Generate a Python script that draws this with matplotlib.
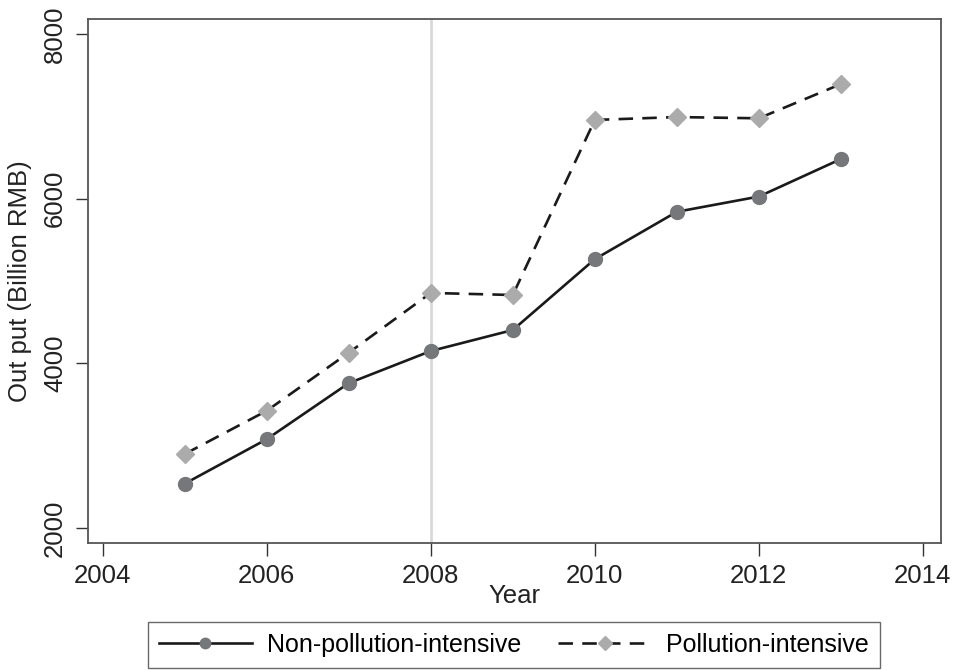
import numpy as np
import matplotlib
matplotlib.use('Agg')
import matplotlib.pyplot as plt

plt.rcParams['font.family'] = ['Liberation Sans', 'DejaVu Sans']

years = [2005, 2006, 2007, 2008, 2009, 2010, 2011, 2012, 2013]
non_pollution = [2540, 3080, 3760, 4150, 4405, 5265, 5840, 6025, 6480]
pollution = [2900, 3425, 4130, 4855, 4830, 6955, 6990, 6975, 7390]

x_ticks = [2004, 2006, 2008, 2010, 2012, 2014]
y_ticks = [2000, 4000, 6000, 8000]

fig = plt.figure(figsize=(9.65, 6.7), dpi=100)
ax = fig.add_axes([0.0912, 0.1896, 0.8838, 0.782])

# reference year line
ax.axvline(2008, color='#d9d9d9', lw=2, zorder=1)

ax.plot(years, non_pollution, color='#1a1a1a', lw=1.9, marker='o', ms=10,
        mfc='#76777b', mec='#76777b', label='Non-pollution-intensive', zorder=3)
ax.plot(years, pollution, color='#1a1a1a', lw=1.9, ls=(0, (5.5, 3.5)), marker='D', ms=9,
        mfc='#ababab', mec='#ababab', label='Pollution-intensive', zorder=3)

ax.set_xlim(2003.82, 2014.22)
ax.set_ylim(1820, 8180)
ax.set_xticks(x_ticks)
ax.set_yticks(y_ticks)
ax.tick_params(axis='both', direction='out', length=9, width=1, color='#333333',
               labelsize=18.5, labelcolor='#222222', pad=6)
for lab in ax.get_yticklabels():
    lab.set_rotation(90)
    lab.set_va('center')

for sp in ax.spines.values():
    sp.set_color('#555555')
    sp.set_linewidth(1.3)

ax.set_xlabel('Year', fontsize=18.5, color='#222222', labelpad=-3)
ax.set_ylabel('Out put (Billion RMB)', fontsize=18.5, color='#222222', labelpad=8)

leg = fig.legend(loc='center', bbox_to_anchor=(0.5326, 0.0375), ncol=2, fontsize=18,
                 frameon=True, fancybox=False, edgecolor='#444444', handlelength=3.7,
                 handletextpad=0.6, columnspacing=1.5, borderpad=0.45, markerscale=0.75)
leg.get_frame().set_linewidth(1.0)

fig.savefig('out.png', dpi=100)
